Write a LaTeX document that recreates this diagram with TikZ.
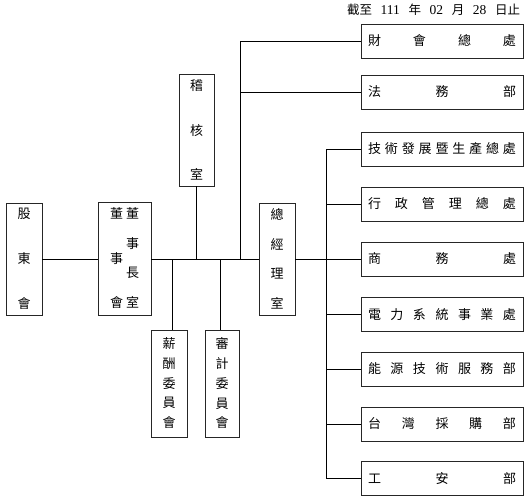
\documentclass[tikz,border=0pt]{standalone}
\usepackage{fontspec}
\setmainfont{Noto Sans CJK TC}
\newfontfamily\numfont{Liberation Serif}
\tikzset{
  box/.style={draw=black!85, line width=0.9pt, inner sep=0pt, align=center, font=\fontsize{13}{13}\selectfont},
  hbox/.style={box, minimum width=162pt, minimum height=34pt},
  link/.style={draw=black, line width=0.8pt},
}
\newcommand{\hj}[1]{\hbox to 148pt{#1}}
\newcommand{\vj}[2]{\vbox to #1{\offinterlineskip #2}}
\newcommand{\nm}[1]{{\numfont\fontsize{13.5}{13}\selectfont #1}}
\begin{document}
\begin{tikzpicture}[x=1pt,y=-1pt]
\useasboundingbox (0,0) rectangle (530,498);
% date
\node[inner sep=0pt, font=\fontsize{12.5}{12.5}\selectfont] (date) at (433.5,10)
  {\hbox to 173pt{截至\hfill\nm{111}\hfill 年\hfill\nm{02}\hfill 月\hfill\nm{28}\hfill 日止}};
% left boxes
\node[box, minimum width=36pt, minimum height=112pt] (gd) at (24,259)
  {\vj{100pt}{\hbox{股}\vfill\hbox{東}\vfill\hbox{會}}};
\node[box, minimum width=53pt, minimum height=113pt] (dsz) at (124.5,258.5)
  {\hbox{\vj{100pt}{\hbox{董}\vfill\hbox{事}\vfill\hbox{會}}\hspace{3pt}\vj{100pt}{\hbox{董}\vfill\hbox{事}\vfill\hbox{長}\vfill\hbox{室}}}};
\node[box, minimum width=35pt, minimum height=112pt] (jh) at (196.5,130)
  {\vj{100pt}{\hbox{稽}\vfill\hbox{核}\vfill\hbox{室}}};
\node[box, minimum width=36pt, minimum height=112pt] (zj) at (277,259)
  {\vj{100pt}{\hbox{總}\vfill\hbox{經}\vfill\hbox{理}\vfill\hbox{室}}};
\node[box, minimum width=36pt, minimum height=107pt] (xc) at (169,383.5)
  {\vj{90pt}{\hbox{薪}\vfill\hbox{酬}\vfill\hbox{委}\vfill\hbox{員}\vfill\hbox{會}}};
\node[box, minimum width=34pt, minimum height=107pt] (sj) at (222,383.5)
  {\vj{90pt}{\hbox{審}\vfill\hbox{計}\vfill\hbox{委}\vfill\hbox{員}\vfill\hbox{會}}};
% right boxes
\node[hbox] (cw) at (442,41) {\hj{財\hfill 會\hfill 總\hfill 處}};
\node[hbox] (fw) at (442,92) {\hj{法\hfill 務\hfill 部}};
\node[hbox] (r1) at (442,149) {\hj{技\hfill 術\hfill 發\hfill 展\hfill 暨\hfill 生\hfill 產\hfill 總\hfill 處}};
\node[hbox] (r2) at (442,204) {\hj{行\hfill 政\hfill 管\hfill 理\hfill 總\hfill 處}};
\node[hbox] (r3) at (442,259) {\hj{商\hfill 務\hfill 處}};
\node[hbox] (r4) at (442,314.5) {\hj{電\hfill 力\hfill 系\hfill 統\hfill 事\hfill 業\hfill 處}};
\node[hbox] (r5) at (442,369) {\hj{能\hfill 源\hfill 技\hfill 術\hfill 服\hfill 務\hfill 部}};
\node[hbox] (r6) at (442,424) {\hj{台\hfill 灣\hfill 採\hfill 購\hfill 部}};
\node[hbox] (r7) at (442,478.5) {\hj{工\hfill 安\hfill 部}};
% connectors
\coordinate (b1) at (240,259);
\coordinate (b2) at (326,259);
\draw[link] (gd.east) -- (gd.east -| dsz.west);
\draw[link] (dsz.east |- zj.west) -- (zj.west);
\draw[link] (jh.south) -- (jh.south |- zj.west);
\draw[link] ([xshift=3.3pt]xc.north) -- ([xshift=3.3pt]xc.north |- zj.west);
\draw[link] ([xshift=-1.3pt]sj.north) -- ([xshift=-1.3pt]sj.north |- zj.west);
\draw[link] (cw.west) -| (b1);
\draw[link] (fw.west) -- (fw.west -| b1);
\draw[link] (zj.east) -- (r3.west);
\draw[link] (r1.west) -| (r7.west -| b2) -- (r7.west);
\foreach \r in {r2,r4,r5,r6} \draw[link] (\r.west) -- (\r.west -| b2);
\end{tikzpicture}
\end{document}
